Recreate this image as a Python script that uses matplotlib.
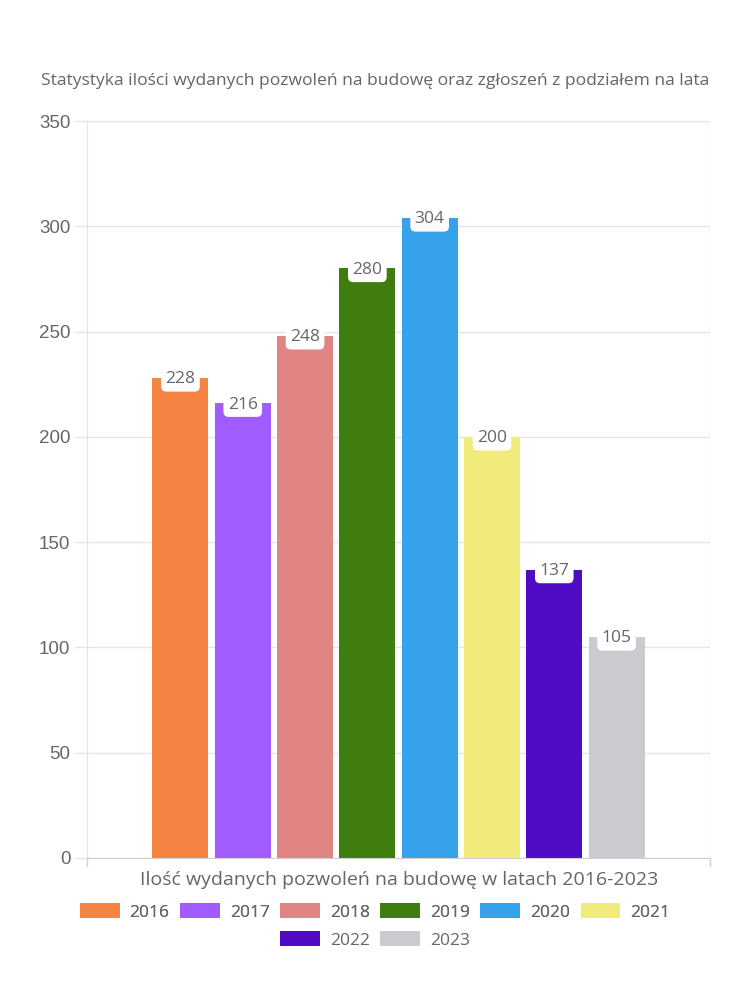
import matplotlib
matplotlib.use("Agg")
import matplotlib.pyplot as plt
from matplotlib.patches import Patch

plt.rcParams['font.family'] = ['Open Sans', 'DejaVu Sans']

# dane
lata = ['2016', '2017', '2018', '2019', '2020', '2021', '2022', '2023']
wartosci = [228, 216, 248, 280, 304, 200, 137, 105]
kolory = ['#F58442', '#A05CFF', '#E08484', '#3E7D0E', '#36A2EB', '#F0EB7A', '#500BC4', '#C9CBCF']
y_ticks = [0, 50, 100, 150, 200, 250, 300, 350]

title = 'Statystyka ilości wydanych pozwoleń na budowę oraz zgłoszeń z podziałem na lata'
xlabel = 'Ilość wydanych pozwoleń na budowę w latach 2016-2023'

szary = '#666666'
siatka = '#e5e5e5'

fig = plt.figure(figsize=(7.5, 10), dpi=100)
ax = fig.add_axes([0.116, 0.142, 0.8307, 0.737])

pos = list(range(len(lata)))
ax.bar(pos, wartosci, width=0.9, color=kolory, zorder=2)

# etykiety wartosci w bialych ramkach
for x, v in zip(pos, wartosci):
    ax.annotate(str(v), (x, v), xytext=(0, -1), textcoords='offset points',
                ha='center', va='center', fontsize=12.5, color=szary, zorder=3,
                bbox=dict(boxstyle='round,pad=0.25,rounding_size=0.3', fc='white', ec='none'))

ax.set_xlim(-1.5, len(lata) + 0.5)
ax.set_ylim(0, 350)
ax.set_yticks(y_ticks)
ax.set_xticks([])
ax.tick_params(axis='y', colors=siatka, labelcolor=szary, labelsize=13.5, length=9, width=1, pad=3)
for t in ax.get_yticklabels():
    t.set_family('Liberation Sans')
ax.grid(axis='y', color=siatka, linewidth=1, zorder=0)
for s in ['top', 'right']:
    ax.spines[s].set_visible(False)
ax.spines['left'].set_color(siatka)
ax.spines['bottom'].set_color('#d0d0d0')
ax.axvline(len(lata) + 0.5, color=siatka, linewidth=1, zorder=0)
# kreski pod osia x na krawedziach kategorii
for xe in [-1.5, len(lata) + 0.5]:
    ax.plot([xe, xe], [0, -4], color='#d0d0d0', linewidth=1, clip_on=False)

fig.text(0.5, 0.919, title, ha='center', va='center', fontsize=12.6, color=szary)
fig.text(0.532, 0.12, xlabel, ha='center', va='center', fontsize=14, color=szary)

uchwyty = [Patch(facecolor=c) for c in kolory]
opcje = dict(frameon=False, fontsize=12.5, handlelength=2.3, handleheight=0.92,
             columnspacing=0.6, handletextpad=0.57, labelcolor=szary)
leg1 = fig.legend(uchwyty[:6], lata[:6], loc='center', bbox_to_anchor=(0.5, 0.088), ncol=6, **opcje)
fig.add_artist(leg1)
fig.legend(uchwyty[6:], lata[6:], loc='center', bbox_to_anchor=(0.5, 0.060), ncol=2, **opcje)

fig.savefig('out.png', dpi=100)
